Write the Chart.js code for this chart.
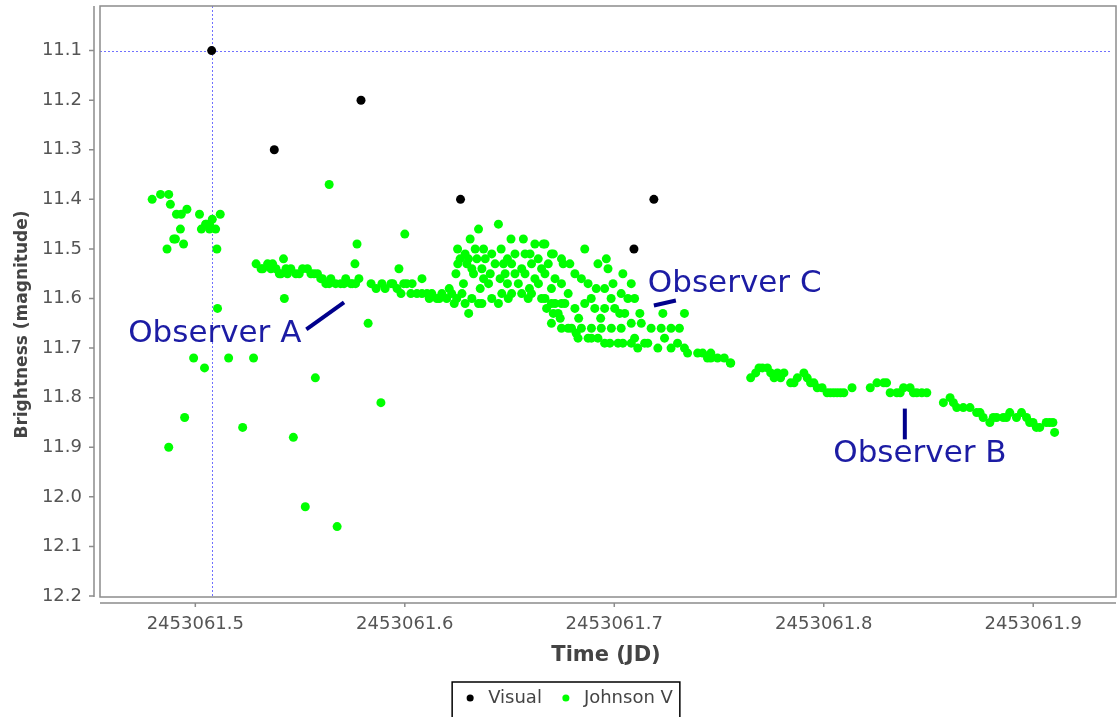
<!DOCTYPE html>
<html>
<head>
<meta charset="utf-8">
<script src="https://cdn.jsdelivr.net/npm/chart.js@4.4.1/dist/chart.umd.min.js"></script>
<style>
  html, body { margin: 0; padding: 0; background: #fff; }
  #wrap { width: 1118px; height: 717px; }
</style>
</head>
<body>
<div id="wrap"><canvas id="lc"></canvas></div>
<script>
const JD0 = 2453061;

const visual = [
  [.5078, 11.1], [.5377, 11.3], [.5791, 11.2], [.6266, 11.4], [.7094, 11.5], [.7189, 11.4]
];

const johnsonV = [
  // early scatter
  [.4794,11.40],[.4834,11.39],[.4873,11.39],[.4881,11.41],[.4910,11.43],[.4933,11.43],[.4960,11.42],
  [.4929,11.46],[.4897,11.48],[.4905,11.48],[.4865,11.50],[.4944,11.49],[.5020,11.43],[.5029,11.46],
  [.5049,11.45],[.5068,11.45],[.5081,11.44],[.5097,11.46],[.5068,11.46],[.5119,11.43],[.5103,11.50],
  [.5052,11.45],
  [.4873,11.90],[.4949,11.84],[.4992,11.72],[.5044,11.74],[.5106,11.62],[.5159,11.72],[.5226,11.86],
  [.5278,11.72],[.5425,11.60],[.5468,11.88],[.5525,12.02],[.5573,11.76],[.5639,11.37],[.5677,12.06],
  [.5772,11.49],[.5825,11.65],[.5886,11.81],[.5972,11.54],[.6000,11.47],[.5762,11.53],[.5421,11.52],
  // observer A run
  [.5290,11.53],[.5314,11.54],[.5345,11.53],[.5369,11.53],[.5385,11.54],[.5409,11.55],[.5433,11.54],
  [.5456,11.54],[.5480,11.55],[.5512,11.54],[.5535,11.54],[.5552,11.55],[.5583,11.55],[.5599,11.56],
  [.5623,11.57],[.5647,11.56],[.5670,11.57],[.5694,11.57],[.5718,11.56],[.5742,11.57],[.5765,11.57],
  [.5781,11.56],[.5322,11.54],[.5361,11.54],[.5401,11.55],[.5440,11.55],[.5496,11.55],[.5567,11.55],
  [.5607,11.56],[.5639,11.57],[.5710,11.57],[.5749,11.57],
  [.5839,11.57],[.5863,11.58],[.5891,11.57],[.5906,11.58],[.5934,11.57],[.5963,11.58],[.5982,11.59],
  [.6010,11.57],[.6029,11.59],[.6058,11.59],[.6082,11.59],[.6106,11.59],[.6129,11.59],[.6153,11.60],
  [.6177,11.59],[.6200,11.60],[.6224,11.59],[.6248,11.60],[.5943,11.57],[.5995,11.57],[.6035,11.57],
  [.6082,11.56],[.6117,11.60],[.6165,11.60],[.6212,11.58],[.6236,11.61],
  // observer C cloud
  [.6305,11.63],[.6352,11.46],[.6447,11.45],[.6312,11.48],[.6252,11.50],[.6253,11.53],[.6244,11.55],
  [.6288,11.51],[.6336,11.50],[.6376,11.50],[.6415,11.51],[.6304,11.52],[.6344,11.52],[.6384,11.52],
  [.6431,11.53],[.6320,11.54],[.6368,11.54],[.6408,11.55],[.6376,11.56],[.6328,11.55],[.6296,11.53],
  [.6507,11.48],[.6566,11.48],[.6621,11.49],[.6669,11.49],[.6526,11.51],[.6574,11.51],[.6471,11.53],
  [.6510,11.53],[.6558,11.54],[.6605,11.53],[.6653,11.54],[.6700,11.51],[.6748,11.52],[.6637,11.52],
  [.6479,11.55],[.6526,11.55],[.6574,11.55],[.6621,11.56],[.6669,11.55],[.6717,11.56],
  [.6264,11.52],[.6280,11.57],[.6360,11.58],[.6400,11.57],[.6455,11.56],[.6490,11.57],[.6542,11.57],
  [.6595,11.58],[.6638,11.57],[.6685,11.53],[.6460,11.50],[.6490,11.52],[.6598,11.51],
  [.6273,11.59],[.6320,11.60],[.6368,11.61],[.6415,11.60],[.6463,11.59],[.6510,11.59],[.6558,11.59],
  [.6605,11.59],[.6653,11.60],[.6700,11.61],[.6748,11.61],[.6732,11.63],[.6288,11.61],[.6352,11.61],
  [.6447,11.61],[.6494,11.60],[.6589,11.60],[.6700,11.58],[.6748,11.57],
  [.6859,11.50],[.6922,11.53],[.6962,11.52],[.6970,11.54],[.7041,11.55],[.7081,11.57],[.7097,11.60],
  [.7335,11.63],[.7232,11.63],[.7026,11.63],[.7122,11.63],
  [.6661,11.49],[.6709,11.51],[.6756,11.53],[.6788,11.53],[.6812,11.55],[.6843,11.56],[.6875,11.57],
  [.6914,11.58],[.6954,11.58],[.6994,11.57],[.7033,11.59],[.7065,11.60],
  [.6669,11.60],[.6717,11.61],[.6764,11.61],[.6812,11.62],[.6859,11.61],[.6907,11.62],[.6954,11.62],
  [.7002,11.62],[.7050,11.63],[.6780,11.59],[.6890,11.60],[.6985,11.60],[.6830,11.64],[.6935,11.64],
  [.6700,11.65],[.6748,11.66],[.6796,11.66],[.6843,11.66],[.6891,11.66],[.6938,11.66],[.6986,11.66],
  [.7033,11.66],[.7081,11.65],[.7129,11.65],[.7176,11.66],[.7224,11.66],[.7271,11.66],[.7311,11.66],
  // observer B decline
  [.6827,11.68],[.6891,11.68],[.6954,11.69],[.7018,11.69],[.7081,11.69],[.7097,11.68],[.7145,11.69],
  [.7208,11.70],[.7240,11.68],[.7271,11.70],[.7335,11.70],[.7398,11.71],[.7461,11.72],[.7525,11.72],
  [.7556,11.73],[.6677,11.62],[.6709,11.63],[.6742,11.64],[.6780,11.66],[.6818,11.67],[.6875,11.68],
  [.6922,11.68],[.6979,11.69],[.7041,11.69],[.7112,11.70],[.7160,11.69],[.7302,11.69],[.7350,11.71],
  [.7445,11.72],[.7493,11.72],[.7422,11.71],[.7461,11.71],[.7554,11.73],
  [.7651,11.76],[.7675,11.75],[.7707,11.74],[.7731,11.74],[.7763,11.76],[.7779,11.75],[.7810,11.75],
  [.7842,11.77],[.7874,11.76],[.7905,11.75],[.7921,11.76],[.7953,11.77],[.7992,11.78],[.8032,11.79],
  [.8064,11.79],[.8096,11.79],[.8135,11.78],[.7691,11.74],[.7747,11.75],[.7794,11.76],[.7858,11.77],
  [.7937,11.77],[.7969,11.78],[.8016,11.79],[.8048,11.79],[.8080,11.79],
  [.8222,11.78],[.8254,11.77],[.8286,11.77],[.8317,11.79],[.8349,11.79],[.8381,11.78],[.8412,11.78],
  [.8444,11.79],[.8492,11.79],[.8300,11.77],[.8365,11.79],[.8428,11.79],[.8468,11.79],
  [.8571,11.81],[.8603,11.80],[.8635,11.82],[.8666,11.82],[.8698,11.82],[.8730,11.83],[.8761,11.84],
  [.8793,11.85],[.8825,11.84],[.8857,11.84],[.8888,11.83],[.8920,11.84],[.8944,11.83],[.8968,11.84],
  [.8999,11.85],[.9031,11.86],[.9062,11.85],[.9094,11.85],[.9102,11.87],[.8619,11.81],[.8746,11.83],
  [.8809,11.84],[.8872,11.84],[.8983,11.85],[.9015,11.86],[.9078,11.85]
];

const xTicks = [.5, .6, .7, .8, .9];
const yTicks = [11.1, 11.2, 11.3, 11.4, 11.5, 11.6, 11.7, 11.8, 11.9, 12.0, 12.1, 12.2];

// crosshair sits on the first visual estimate
const crosshair = { t: .5078, mag: 11.1 };

// annotation text anchors and marker segments, in data units
const observers = [
  { label: 'Observer A', t: .5093, mag: 11.672, from: [.5530, 11.662], to: [.5710, 11.608] },
  { label: 'Observer C', t: .7575, mag: 11.571, from: [.7189, 11.614], to: [.7294, 11.604] },
  { label: 'Observer B', t: .8459, mag: 11.914, from: [.8387, 11.822], to: [.8387, 11.884] }
];

const toPts = arr => arr.map(([t, m]) => ({ x: JD0 + t, y: m }));
const FONT = 'DejaVu Sans';

const deco = {
  id: 'deco',
  afterLayout(chart) {
    // the legend sits a little right of centre
    chart.legend.left += 11;
    chart.legend.right += 11;
  },
  beforeDatasetsDraw(chart) {
    const { ctx, chartArea: a, scales: { x, y } } = chart;
    const cx = x.getPixelForValue(JD0 + crosshair.t), cy = y.getPixelForValue(crosshair.mag);
    ctx.save();
    ctx.strokeStyle = '#7070ff';
    ctx.lineWidth = 1;
    ctx.setLineDash([2, 2]);
    ctx.beginPath();
    ctx.moveTo(Math.round(cx) + .5, a.top); ctx.lineTo(Math.round(cx) + .5, a.bottom);
    ctx.moveTo(a.left, Math.round(cy) + .5); ctx.lineTo(a.right, Math.round(cy) + .5);
    ctx.stroke();
    ctx.restore();
  },
  afterDatasetsDraw(chart) {
    const { ctx, chartArea: a, scales: { x, y } } = chart;
    ctx.save();
    // plot outline
    ctx.strokeStyle = '#8c8c8c';
    ctx.lineWidth = 1.5;
    ctx.strokeRect(a.left, a.top, a.right - a.left + 4, a.bottom - a.top);
    // offset axis lines with ticks
    const ax = a.left - 6, ay = a.bottom + 6;
    ctx.beginPath();
    ctx.moveTo(ax, a.top); ctx.lineTo(ax, a.bottom);
    yTicks.forEach(v => { const p = y.getPixelForValue(v); ctx.moveTo(ax, p); ctx.lineTo(ax - 5, p); });
    ctx.moveTo(a.left, ay); ctx.lineTo(a.right + 4, ay);
    xTicks.forEach(v => { const p = x.getPixelForValue(JD0 + v); ctx.moveTo(p, ay); ctx.lineTo(p, ay + 4); });
    ctx.stroke();
    // y axis title, centred a bit below the plot middle as in the original
    ctx.save();
    ctx.translate(23, (a.top + a.bottom) / 2 + 23);
    ctx.rotate(-Math.PI / 2);
    ctx.font = 'bold 17px "' + FONT + '"';
    ctx.fillStyle = '#444';
    ctx.textAlign = 'center';
    ctx.textBaseline = 'middle';
    ctx.fillText('Brightness (magnitude)', 0, 0);
    ctx.restore();
    // observer annotations
    ctx.font = '31px "' + FONT + '"';
    ctx.textAlign = 'center';
    ctx.textBaseline = 'middle';
    observers.forEach(o => {
      ctx.fillStyle = '#1c1ca4';
      ctx.fillText(o.label, x.getPixelForValue(JD0 + o.t), y.getPixelForValue(o.mag));
      ctx.strokeStyle = '#00008c';
      ctx.lineWidth = 4;
      ctx.lineCap = 'butt';
      ctx.beginPath();
      ctx.moveTo(x.getPixelForValue(JD0 + o.from[0]), y.getPixelForValue(o.from[1]));
      ctx.lineTo(x.getPixelForValue(JD0 + o.to[0]), y.getPixelForValue(o.to[1]));
      ctx.stroke();
    });
    ctx.restore();
  },
  afterDraw(chart) {
    const lg = chart.legend;
    if (!lg || !lg.legendHitBoxes.length) return;
    const hb = lg.legendHitBoxes;
    const l = Math.min(...hb.map(b => b.left)) - 9;
    const r = Math.max(...hb.map(b => b.left + b.width)) + 7;
    const ctx = chart.ctx;
    ctx.save();
    ctx.strokeStyle = '#000';
    ctx.lineWidth = 1.5;
    ctx.strokeRect(l, hb[0].top - 7, r - l, 44);
    ctx.restore();
  }
};

new Chart(document.getElementById('lc'), {
  type: 'scatter',
  data: {
    datasets: [
      { label: 'Visual', data: toPts(visual), backgroundColor: '#000', borderWidth: 0, pointRadius: 4.5 },
      { label: 'Johnson V', data: toPts(johnsonV), backgroundColor: '#00ff00', borderWidth: 0, pointRadius: 4.5 }
    ]
  },
  options: {
    responsive: true,
    maintainAspectRatio: false,
    animation: false,
    layout: { padding: { left: 0, right: 6, top: 6, bottom: 0 } },
    scales: {
      x: {
        type: 'linear',
        min: JD0 + .4545,
        max: JD0 + .9376,
        afterBuildTicks: s => { s.ticks = xTicks.map(v => ({ value: JD0 + v })); },
        afterFit: s => { s.height = 77; s.paddingLeft = 0; s.paddingRight = 0; },
        grid: { display: false, drawTicks: false },
        border: { display: false },
        ticks: {
          padding: 17, color: '#555',
          font: { family: FONT, size: 18 },
          callback: v => v.toFixed(1)
        },
        title: {
          display: true, text: 'Time (JD)', color: '#444',
          font: { family: FONT, size: 21, weight: 'bold' },
          padding: { top: 4, bottom: 6 }
        }
      },
      y: {
        reverse: true,
        min: 11.01,
        max: 12.202,
        afterBuildTicks: s => { s.ticks = yTicks.map(v => ({ value: v })); },
        afterFit: s => { s.width = 100; s.paddingTop = 0; s.paddingBottom = 0; },
        grid: { display: false, drawTicks: false },
        border: { display: false },
        ticks: {
          padding: 18, color: '#555',
          font: { family: FONT, size: 18 },
          callback: v => v.toFixed(1)
        },
        title: { display: false }
      }
    },
    plugins: {
      legend: {
        position: 'bottom',
        labels: {
          usePointStyle: true, pointStyle: 'circle', boxWidth: 18, boxHeight: 5,
          padding: 15, color: '#444',
          font: { family: FONT, size: 18 }
        }
      },
      tooltip: { enabled: false }
    }
  },
  plugins: [deco]
});
</script>
</body>
</html>
